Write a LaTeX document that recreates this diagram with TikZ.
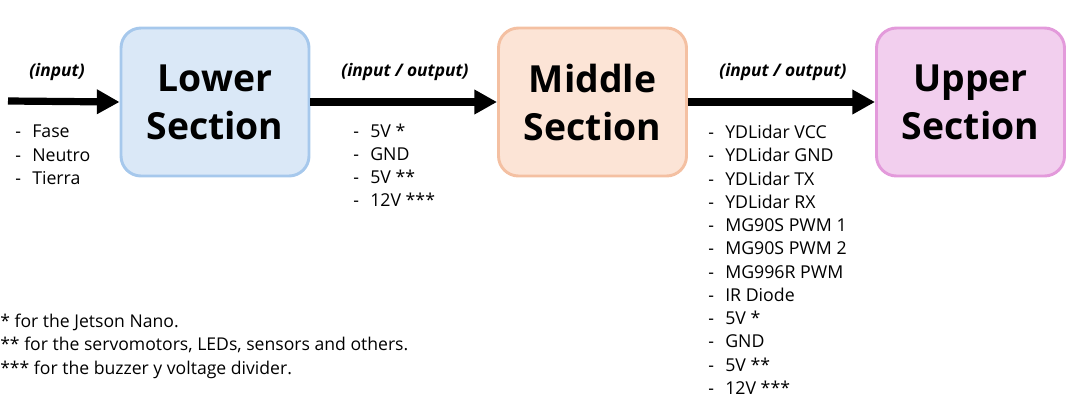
\documentclass[tikz,border=0pt]{standalone}
\usepackage{fontspec}
\setmainfont{Open Sans}
\usetikzlibrary{arrows.meta}
\definecolor{lowfill}{HTML}{DAE8F7}
\definecolor{lowdraw}{HTML}{A6C8EC}
\definecolor{midfill}{HTML}{FCE4D6}
\definecolor{middraw}{HTML}{F4C0A2}
\definecolor{upfill}{HTML}{F2CFEE}
\definecolor{updraw}{HTML}{E39ADB}
\newcommand{\itm}[1]{\makebox[12.75pt][l]{-}#1}
\begin{document}
\begin{tikzpicture}[x=0.75pt,y=-0.75pt,
  section/.style={rounded corners=15pt,line width=2.2pt,minimum width=141pt,minimum height=111pt,align=center,font=\fontsize{28}{36}\selectfont\bfseries},
  flow/.style={line width=5.4pt,-{Triangle[length=17pt,width=17.5pt]}},
  flowlabel/.style={font=\fontsize{13}{15}\selectfont\bfseries\itshape},
  itemlist/.style={anchor=base west,align=left,font=\fontsize{13.3}{17.45}\selectfont,inner sep=0pt},
  note/.style={anchor=base west,align=left,font=\fontsize{13.2}{17.3}\selectfont,inner sep=0pt}]
\useasboundingbox (0,0) rectangle (1067,411);
\node[section,fill=lowfill,draw=lowdraw] (low) at (215,102) {Lower\\Section};
\node[section,fill=midfill,draw=middraw] (mid) at (592.5,102) {Middle\\Section};
\node[section,fill=upfill,draw=updraw] (up) at (970.5,102) {Upper\\Section};
\coordinate (start) at (8,101);
\draw[flow] (start) -- (low.west);
\draw[flow] (low.east) -- (mid.west);
\draw[flow] (mid.east) -- (up.west);
\node[flowlabel] (l1) at (57,72) {(input)};
\node[flowlabel] (l2) at (405,72) {(input / output)};
\node[flowlabel] (l3) at (783,72) {(input / output)};
\node[itemlist] (list1) at (15,184.5) {\itm{Fase}\\\itm{Neutro}\\\itm{Tierra}};
\node[itemlist] (list2) at (353,206.8) {\itm{5V *}\\\itm{GND}\\\itm{5V **}\\\itm{12V ***}};
\node[itemlist] (list3) at (708,394.5) {\itm{YDLidar VCC}\\\itm{YDLidar GND}\\\itm{YDLidar TX}\\\itm{YDLidar RX}\\\itm{MG90S PWM 1}\\\itm{MG90S PWM 2}\\\itm{MG996R PWM}\\\itm{IR Diode}\\\itm{5V *}\\\itm{GND}\\\itm{5V **}\\\itm{12V ***}};
\node[note] (notes) at (0,374) {* for the Jetson Nano.\\** for the servomotors, LEDs, sensors and others.\\*** for the buzzer y voltage divider.};
\end{tikzpicture}
\end{document}
